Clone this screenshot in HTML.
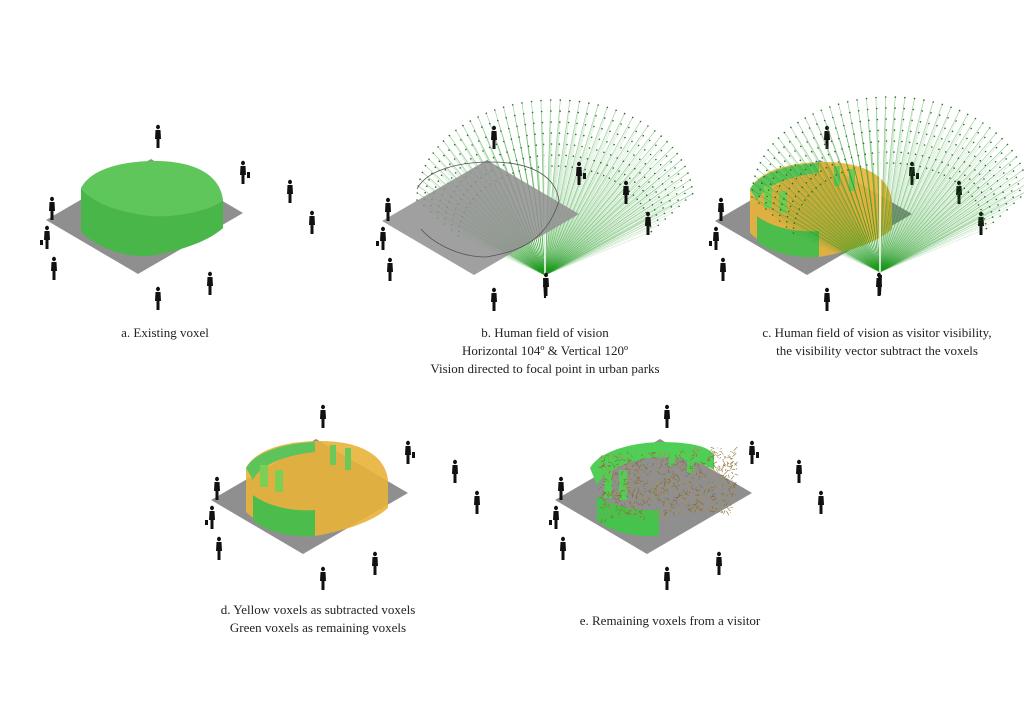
<!DOCTYPE html>
<html><head><meta charset="utf-8"><style>
html,body{margin:0;padding:0;background:#fff}
svg{display:block}
text{font-family:"Liberation Serif",serif;font-size:13px;fill:#222}
</style></head><body>
<svg id="s" width="1024" height="725" viewBox="0 0 1024 725" xmlns="http://www.w3.org/2000/svg">
<defs>
<g id="ground"><polygon points="46,220 151,159 243,213 138,274" fill="#8f8f8f"/></g>
<g id="p1"><ellipse cx="0" cy="-18" rx="2" ry="2.2" fill="#111"/><path d="M-2.5,-15 L2.5,-15 L3,-6 L1.5,-6 L1.5,3 L-1.5,3 L-1.5,-6 L-3,-6 Z" fill="#111"/></g>
<g id="people">
 <use href="#p1" x="158" y="145"/><use href="#p1" x="243" y="181"/><rect x="247" y="172" width="3" height="6" fill="#111"/>
 <use href="#p1" x="290" y="200"/><use href="#p1" x="312" y="231"/>
 <use href="#p1" x="52" y="217"/><use href="#p1" x="47" y="246"/><rect x="40" y="240" width="3" height="5" fill="#111"/>
 <use href="#p1" x="54" y="277"/><use href="#p1" x="210" y="292"/><use href="#p1" x="158" y="307"/>
</g>
<g id="blockA">
 <path d="M81,188 L81,232 C100,250 130,258 150,256 C185,250 210,240 223,228 L223,200 C210,212 170,218 150,216 C120,212 95,205 81,188Z" fill="#49b64a"/>
 <path d="M81,188 C90,170 120,161 155,161 C195,161 220,175 223,200 C210,212 170,218 150,216 C120,212 95,205 81,188Z" fill="#5fc65c"/>
</g>
<g id="blockD">
 <path d="M81,188 C90,170 120,161 155,161 C195,161 220,175 223,200 L223,228 C210,240 185,250 150,256 C130,258 100,250 81,232Z" fill="#e9b23a" opacity="0.9"/>
 <path d="M81,188 C90,172 120,163 150,162 L150,172 C120,175 95,185 88,200 Z" fill="#5cc45a"/>
 <rect x="95" y="185" width="8" height="22" fill="#7ccf55"/><rect x="110" y="190" width="8" height="22" fill="#7ccf55"/>
 <rect x="165" y="165" width="6" height="20" fill="#6cc858"/><rect x="180" y="168" width="6" height="22" fill="#6cc858"/>
 <path d="M88,215 L88,240 C100,252 130,258 150,256 L150,230 C125,232 100,225 88,215Z" fill="#4cbc4c"/>
</g>
<g id="blockE">
 <path d="M81,188 C90,172 120,163 150,162 C180,162 200,166 205,175 L205,190 C190,180 160,176 140,178 C115,182 95,192 88,205 Z" fill="#4fcf56"/>
 <rect x="95" y="188" width="8" height="30" fill="#4fcf56"/><rect x="110" y="190" width="8" height="30" fill="#4fcf56"/>
 <rect x="160" y="166" width="6" height="20" fill="#4fcf56"/><rect x="178" y="168" width="7" height="25" fill="#4fcf56"/>
 <path d="M88,215 L88,240 C100,252 130,258 150,256 L150,230 C125,232 100,225 88,215Z" fill="#45c34c"/>
</g>
</defs>
<use href="#ground"/><use href="#blockA"/><use href="#people"/>
<g id="raysB"></g>
<g transform="translate(336,1)"><use href="#ground" opacity="0.85"/><path d="M81,188 C90,170 120,161 155,161 C195,161 220,175 223,200 C210,240 185,250 150,256 C120,256 95,240 85,228" fill="none" stroke="#555" stroke-width="0.8"/><use href="#people"/></g>
<g transform="translate(669,1)"><use href="#ground"/><use href="#blockD"/><use href="#people"/></g>
<g id="raysC"></g>
<g transform="translate(165,280)"><use href="#ground"/><use href="#blockD"/><use href="#people"/></g>
<g transform="translate(509,280)"><use href="#ground"/><use href="#blockE"/><g id="scr"></g><use href="#people"/></g>
<text x="165" y="337" text-anchor="middle">a. Existing voxel</text>
<text x="545" y="337" text-anchor="middle">b. Human field of vision</text>
<text x="545" y="355" text-anchor="middle">Horizontal 104º &amp; Vertical 120º</text>
<text x="545" y="373" text-anchor="middle">Vision directed to focal point in urban parks</text>
<text x="877" y="337" text-anchor="middle">c. Human field of vision as visitor visibility,</text>
<text x="877" y="355" text-anchor="middle">the visibility vector subtract the voxels</text>
<text x="318" y="614" text-anchor="middle">d. Yellow voxels as subtracted voxels</text>
<text x="318" y="632" text-anchor="middle">Green voxels as remaining voxels</text>
<text x="670" y="625" text-anchor="middle">e. Remaining voxels from a visitor</text>
</svg>
<script>
function rays(id,ox,oy){var g=document.getElementById(id),h="";
 var cx=ox+10,cy=oy-75;
 for(var k=0;k<7;k++){var s=1-k*0.05;
  for(var i=0;i<=44;i++){var a=Math.PI*(1.0-0.98*i/44);
   var x=cx+138*s*Math.cos(a), y=cy-100*s*Math.sin(a)+k*6;
   h+='<line x1="'+ox+'" y1="'+oy+'" x2="'+x.toFixed(1)+'" y2="'+y.toFixed(1)+'" stroke="#1f9a1f" stroke-opacity="'+(k==0?0.5:0.22)+'" stroke-width="0.6"/>';
   h+='<circle cx="'+x.toFixed(1)+'" cy="'+y.toFixed(1)+'" r="0.8" fill="#2a6a2a"/>';}}
 h+='<line x1="'+ox+'" y1="'+oy+'" x2="'+ox+'" y2="'+(oy-170)+'" stroke="#fff" stroke-width="1.5"/>';
 h+='<path d="M'+(ox-2)+','+(oy+3)+' l4,0 l-1,20 l-2,0z" fill="#111"/>';
 g.innerHTML=h;}
rays("raysB",545,275);rays("raysC",880,272);
var s="",r=1;function rnd(){r=(r*9301+49297)%233280;return r/233280;}
for(var i=0;i<900;i++){var u=rnd(),v=rnd();var x=92+u*135,y=175+v*65-u*8;
 s+='<line x1="'+x.toFixed(1)+'" y1="'+y.toFixed(1)+'" x2="'+(x+(rnd()-0.5)*8).toFixed(1)+'" y2="'+(y+(rnd()-0.5)*8).toFixed(1)+'" stroke="'+(rnd()>0.5?"#8a6a30":"#a89060")+'" stroke-width="0.6"/>';}
document.getElementById("scr").innerHTML=s;
</script>
</body></html>
